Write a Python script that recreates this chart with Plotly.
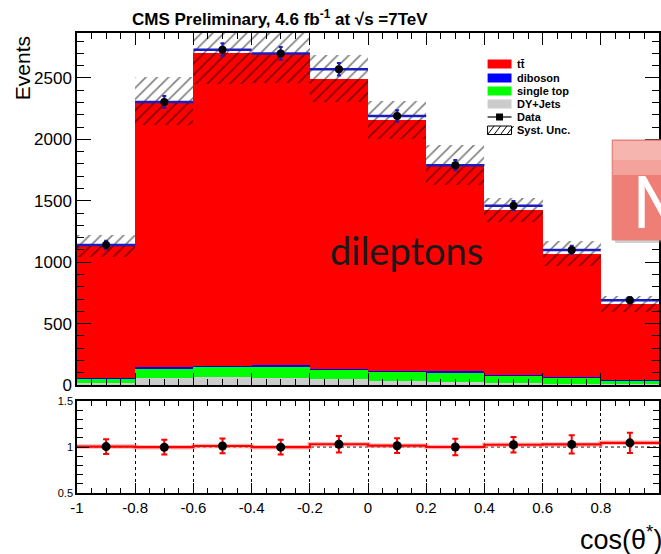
import plotly.graph_objects as go

# cos(theta*) binning
bin_edges = [-1.0, -0.8, -0.6, -0.4, -0.2, 0.0, 0.2, 0.4, 0.6, 0.8, 1.0]
bin_centers = [-0.9, -0.7, -0.5, -0.3, -0.1, 0.1, 0.3, 0.5, 0.7, 0.9]

# stacked simulation (events per bin)
dy_jets = [18, 58, 62, 60, 45, 33, 28, 16, 10, 5]
single_top = [32, 80, 88, 92, 83, 78, 76, 58, 54, 34]
diboson = [4, 6, 7, 7, 6, 6, 6, 5, 4, 3]
ttbar = [1081, 2166, 2543, 2546, 2361, 2043, 1680, 1346, 1002, 618]
syst_unc = [90, 195, 250, 250, 190, 155, 165, 95, 100, 62]

# observed data
data = [1140, 2305, 2730, 2700, 2570, 2190, 1790, 1460, 1100, 690]
data_err = [34, 48, 52, 52, 51, 47, 42, 38, 33, 26]
ratio_err = [0.08, 0.08, 0.08, 0.08, 0.09, 0.08, 0.09, 0.085, 0.10, 0.11]

mc_total = [a + b + c + d for a, b, c, d in zip(dy_jets, single_top, diboson, ttbar)]
ratio = [d / m for d, m in zip(data, mc_total)]

RED = "#ff0000"
GREEN = "#00ff00"
BLUE = "#0000ff"
GREY = "#cccccc"
NAVY = "#1c1cc0"
FONT = "Liberation Sans"

W, H = 661, 554
ML, MR, MT, MB = 77, 0, 33, 61
PW, PH = W - ML - MR, H - MT - MB


def px(x):
    return (x - ML) / PW


def py(y):
    return (H - MB - y) / PH


fig = go.Figure()

bw = [0.2] * len(bin_centers)
base_green = dy_jets
base_blue = [a + b for a, b in zip(dy_jets, single_top)]
base_red = [a + b + c for a, b, c in zip(dy_jets, single_top, diboson)]

for vals, base, col in [
    (dy_jets, [0] * len(dy_jets), GREY),
    (single_top, base_green, GREEN),
    (diboson, base_blue, BLUE),
    (ttbar, base_red, RED),
]:
    fig.add_trace(go.Bar(x=bin_centers, y=vals, base=base, width=bw,
                         marker=dict(color=col, line=dict(width=0)),
                         xaxis="x", yaxis="y", hoverinfo="skip"))

# systematic uncertainty band (hatched)
fig.add_trace(go.Bar(
    x=bin_centers, y=[2 * u for u in syst_unc],
    base=[m - u for m, u in zip(mc_total, syst_unc)], width=bw,
    marker=dict(color="rgba(0,0,0,0)", line=dict(width=0),
                pattern=dict(shape="/", fgcolor="black", size=8, solidity=0.2,
                             fillmode="overlay")),
    xaxis="x", yaxis="y", hoverinfo="skip"))

# data points with bin-width bars
fig.add_trace(go.Scatter(
    x=bin_centers, y=data, mode="markers",
    marker=dict(color="black", size=8),
    error_y=dict(type="data", array=data_err, color=NAVY, thickness=2, width=2),
    error_x=dict(type="data", array=[0.1] * len(bin_centers), color=NAVY,
                 thickness=2.5, width=0),
    xaxis="x", yaxis="y", hoverinfo="skip"))

# ratio panel: step line and points
step_x = bin_edges
step_y = ratio + [ratio[-1]]
fig.add_trace(go.Scatter(x=step_x, y=step_y, mode="lines", line_shape="hv",
                         line=dict(color="rgba(255,130,130,0.6)", width=4.5),
                         xaxis="x2", yaxis="y2", hoverinfo="skip"))
fig.add_trace(go.Scatter(x=step_x, y=step_y, mode="lines", line_shape="hv",
                         line=dict(color=RED, width=2.2),
                         xaxis="x2", yaxis="y2", hoverinfo="skip"))
fig.add_trace(go.Scatter(
    x=bin_centers, y=ratio, mode="markers",
    marker=dict(color="black", size=9),
    error_y=dict(type="data", array=ratio_err, color=RED, thickness=2, width=3),
    xaxis="x2", yaxis="y2", hoverinfo="skip"))

axis_common = dict(showline=True, linecolor="black", linewidth=1.5,
                   ticks="inside", tickcolor="black", mirror="allticks",
                   zeroline=False, showgrid=False)

fig.update_layout(
    width=W, height=H,
    margin=dict(l=ML, r=MR, t=MT, b=MB),
    paper_bgcolor="white", plot_bgcolor="white",
    barmode="overlay", bargap=0, showlegend=False,
    font=dict(family=FONT, color="black"),
    xaxis=dict(domain=[0, 1], anchor="y", range=[-1, 1], showticklabels=False,
               dtick=0.2, tick0=-1, ticklen=12,
               minor=dict(dtick=0.05, ticklen=6, ticks="inside", tickcolor="black"),
               **axis_common),
    yaxis=dict(domain=[py(385), 1], anchor="x", range=[0, 2866],
               dtick=500, ticklen=14, tickfont=dict(size=17),
               minor=dict(dtick=100, ticklen=7, ticks="inside", tickcolor="black"),
               **axis_common),
    xaxis2=dict(domain=[0, 1], anchor="y2", range=[-1, 1], matches="x",
                tickvals=bin_edges[:-1],
                ticktext=["-1", "-0.8", "-0.6", "-0.4", "-0.2", "0", "0.2",
                          "0.4", "0.6", "0.8"],
                ticklen=10, tickfont=dict(size=15),
                minor=dict(dtick=0.05, ticklen=5, ticks="inside", tickcolor="black"),
                showline=True, linecolor="black", linewidth=1.5, ticks="inside",
                tickcolor="black", mirror="allticks", zeroline=False,
                showgrid=True, gridcolor="black", griddash="dot", gridwidth=1),
    yaxis2=dict(domain=[0, py(401)], anchor="x2", range=[0.5, 1.5],
                tickvals=[0.5, 1, 1.5], ticktext=["0.5", "1", "1.5"],
                ticklen=12, tickfont=dict(size=11),
                minor=dict(dtick=0.1, ticklen=6, ticks="inside", tickcolor="black"),
                **axis_common),
)

# unity reference line in the ratio panel
fig.add_shape(type="line", xref="x2", yref="y2", x0=-1, x1=1, y0=1, y1=1,
              line=dict(color="black", width=1, dash="dot"), layer="below")

# title, axis labels and channel label
fig.add_annotation(xref="paper", yref="paper", x=px(281), y=py(18),
                   text="<b>CMS Preliminary, 4.6 fb<sup>-1</sup> at √s =7TeV</b>",
                   showarrow=False, font=dict(size=17, family=FONT),
                   xanchor="center", yanchor="middle")
fig.add_annotation(xref="paper", yref="paper", x=px(22), y=py(68),
                   text="Events", textangle=-90, showarrow=False,
                   font=dict(size=21, family=FONT), xanchor="center", yanchor="middle")
fig.add_annotation(xref="paper", yref="paper", x=px(666), y=py(538),
                   text="cos(θ<sup>*</sup>)", showarrow=False,
                   font=dict(size=27, family=FONT), xanchor="right", yanchor="middle")
fig.add_annotation(xref="x", yref="y", x=0.132, y=1100, text="dileptons",
                   showarrow=False, font=dict(size=38, family="Lato", color="#1a1a1a"),
                   xanchor="center", yanchor="middle")

# legend
legend_rows = [
    ("tt\u0304", RED, 64),
    ("diboson", BLUE, 78),
    ("single top", GREEN, 91),
    ("DY+Jets", GREY, 104),
]
for label, col, yc in legend_rows:
    fig.add_shape(type="rect", xref="paper", yref="paper",
                  x0=px(489), x1=px(513), y0=py(yc + 4.5), y1=py(yc - 4.5),
                  fillcolor=col, line=dict(width=0))
    fig.add_annotation(xref="paper", yref="paper", x=px(517), y=py(yc), text=f"<b>{label}</b>",
                       showarrow=False, font=dict(size=11, family=FONT),
                       xanchor="left", yanchor="middle")

fig.add_shape(type="line", xref="paper", yref="paper", x0=px(489), x1=px(513),
              y0=py(117), y1=py(117), line=dict(color="black", width=1.2))
fig.add_shape(type="rect", xref="paper", yref="paper", x0=px(497.5), x1=px(504.5),
              y0=py(120.5), y1=py(113.5), fillcolor="black", line=dict(width=0))
fig.add_annotation(xref="paper", yref="paper", x=px(517), y=py(117), text="<b>Data</b>",
                   showarrow=False, font=dict(size=11, family=FONT),
                   xanchor="left", yanchor="middle")

fig.add_shape(type="rect", xref="paper", yref="paper", x0=px(489), x1=px(513),
              y0=py(134.5), y1=py(126), fillcolor="white",
              line=dict(color="black", width=1))
for k in range(4):
    x0 = 489 + k * 6.5
    fig.add_shape(type="line", xref="paper", yref="paper",
                  x0=px(x0), x1=px(x0 + 6.5), y0=py(134.5), y1=py(126),
                  line=dict(color="black", width=1))
fig.add_annotation(xref="paper", yref="paper", x=px(517), y=py(130), text="<b>Syst. Unc.</b>",
                   showarrow=False, font=dict(size=11, family=FONT),
                   xanchor="left", yanchor="middle")

# slide button overlapping the right edge
fig.add_shape(type="rect", xref="paper", yref="paper", x0=px(617), x1=px(675),
              y0=py(243), y1=py(143), fillcolor="rgba(120,120,120,0.35)",
              line=dict(width=0), layer="above")
fig.add_shape(type="rect", xref="paper", yref="paper", x0=px(614), x1=px(675),
              y0=py(240), y1=py(140), fillcolor="#ef7e76",
              line=dict(color="#e0857f", width=1), layer="above")
fig.add_shape(type="rect", xref="paper", yref="paper", x0=px(615), x1=px(675),
              y0=py(175), y1=py(141), fillcolor="#f4a29c",
              line=dict(width=0), layer="above")
fig.add_shape(type="rect", xref="paper", yref="paper", x0=px(615), x1=px(675),
              y0=py(160), y1=py(141), fillcolor="#f7b5b0",
              line=dict(width=0), layer="above")
fig.add_annotation(xref="paper", yref="paper", x=px(632), y=py(200), text="M",
                   showarrow=False, font=dict(size=72, family="Lato", color="white"),
                   xanchor="left", yanchor="middle")

fig.write_html("out.html")
